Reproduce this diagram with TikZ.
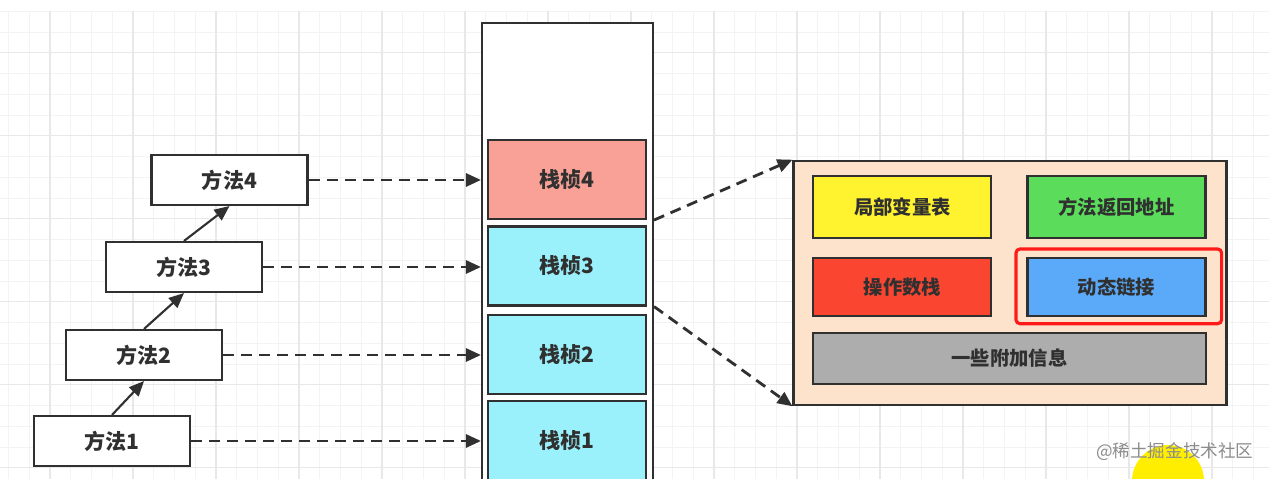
\documentclass[tikz,border=0pt]{standalone}
\usepackage{fontspec}
\setmainfont{Noto Sans CJK SC}
\usetikzlibrary{arrows.meta}
\definecolor{stackInk}{HTML}{303030}
\definecolor{frameSalmon}{HTML}{F9A197}
\definecolor{frameCyan}{HTML}{9AF1FB}
\definecolor{detailPeach}{HTML}{FDE3CB}
\definecolor{slotYellow}{HTML}{FFF22E}
\definecolor{slotGreen}{HTML}{5BDD5B}
\definecolor{slotRed}{HTML}{FA4530}
\definecolor{slotBlue}{HTML}{5AAAF9}
\definecolor{slotGrey}{HTML}{ADADAD}
\definecolor{markRed}{HTML}{FF1A1A}
\definecolor{gridMinor}{HTML}{F3F3F3}
\definecolor{gridMajor}{HTML}{E8E8E8}
\definecolor{cursorYellow}{HTML}{FFEE00}
\tikzset{
    stack/method/.style={
        rectangle, draw=stackInk, fill=white, text=stackInk,
        line width=1.2pt, inner sep=0pt,
        minimum width=3.12cm, minimum height=1cm,
        font=\fontsize{12}{14}\selectfont\bfseries
    },
    stack/outer/.style={
        rectangle, draw=stackInk, fill=white, line width=1.2pt,
        minimum width=3.42cm, minimum height=9.6cm
    },
    stack/frame/.style={
        rectangle, draw=stackInk, fill=frameCyan, text=stackInk,
        line width=1.2pt, inner sep=0pt,
        minimum width=3.16cm, minimum height=1.58cm,
        font=\fontsize{12}{14}\selectfont\bfseries
    },
    stack/current/.style={stack/frame, fill=frameSalmon},
    stack/detail/.style={
        rectangle, draw=stackInk, fill=detailPeach, line width=1.2pt,
        minimum width=8.66cm, minimum height=4.89cm
    },
    stack/slot/.style={
        rectangle, draw=stackInk, line width=1.2pt, text=stackInk,
        inner sep=0pt, minimum width=3.56cm, minimum height=1.24cm,
        font=\fontsize{11}{13}\selectfont\bfseries
    },
    stack/mark/.style={
        draw=markRed, line width=1.8pt, rounded corners=0.8mm
    },
    stack/call/.style={
        draw=stackInk, line width=1.2pt,
        -{Triangle[length=3mm,width=2.6mm]}
    },
    stack/link/.style={
        stack/call, line width=1.6pt, dash pattern=on 2.2mm off 1.4mm
    },
    stack/grid minor/.style={draw=gridMinor, line width=0.5pt},
    stack/grid major/.style={draw=gridMajor, line width=0.6pt},
    stack/watermark/.style={
        font=\fontsize{10}{12}\selectfont, text=black!45, anchor=west
    }
}

\begin{document}
\begin{tikzpicture}[x=0.02cm, y=-0.02cm]
    \useasboundingbox (0,0) rectangle (1269,479);
    \clip (0,0) rectangle (1269,479);
    \fill[white] (0,0) rectangle (1269,479);

    % background grid
    \foreach \gx in {0,...,61}
        \draw[stack/grid minor] (8.5+\gx*20.75,11) -- (8.5+\gx*20.75,479);
    \foreach \gy in {0,...,22}
        \draw[stack/grid minor] (0,11.2+\gy*20.75) -- (1269,11.2+\gy*20.75);
    \foreach \gx in {0,...,14}
        \draw[stack/grid major] (50+\gx*83,11) -- (50+\gx*83,479);
    \foreach \gy in {0,...,5}
        \draw[stack/grid major] (0,52.7+\gy*83) -- (1269,52.7+\gy*83);

    % methods
    \node[stack/method] (method1) at (112,441) {方法1};
    \node[stack/method] (method2) at (144,355) {方法2};
    \node[stack/method] (method3) at (184,267) {方法3};
    \node[stack/method] (method4) at (229.5,180) {方法4};

    % stack with its frames
    \node[stack/outer] (stack) at (567.5,263) {};
    \node[stack/frame] (frame1) at (567,440.5) {栈桢1};
    \node[stack/frame] (frame2) at (567,354.5) {栈桢2};
    \node[stack/frame] (frame3) at (567,266) {栈桢3};
    \node[stack/current] (frame4) at (567,179.5) {栈桢4};

    % inside one frame
    \node[stack/detail] (detail) at (1010,283) {};
    \node[stack/slot, fill=slotYellow] (locals) at (902.4,206.7) {局部变量表};
    \node[stack/slot, fill=slotGreen] (return) at (1116.5,206.7) {方法返回地址};
    \node[stack/slot, fill=slotRed, minimum height=1.17cm] (operands)
        at (902.4,287) {操作数栈};
    \node[stack/slot, fill=slotBlue, minimum height=1.17cm] (linking)
        at (1116.5,287) {动态链接};
    \node[stack/slot, fill=slotGrey, minimum width=7.85cm,
        minimum height=1.03cm] (extra) at (1009.5,358.5) {一些附加信息};
    \draw[stack/mark] (1016,249) rectangle (1221.6,323.7);

    \draw[stack/call] (method1.north) -- (method2.south);
    \draw[stack/call] (method2.north) -- (method3.south);
    \draw[stack/call] (method3.north) -- (method4.south);

    \draw[stack/link] (method1.east) -- (method1.east -| stack.west);
    \draw[stack/link] (method2.east) -- (method2.east -| stack.west);
    \draw[stack/link] (method3.east) -- (method3.east -| stack.west);
    \draw[stack/link] (method4.east) -- (method4.east -| stack.west);

    \draw[stack/link] (stack.east |- frame4.south) -- (detail.north west);
    \draw[stack/link] (stack.east |- frame3.south) -- (detail.south west);

    % watermark
    \fill[cursorYellow] (1168,481) circle (36);
    \node[stack/watermark] (mark) at (1090,452) {@稀土掘金技术社区};
\end{tikzpicture}
\end{document}
